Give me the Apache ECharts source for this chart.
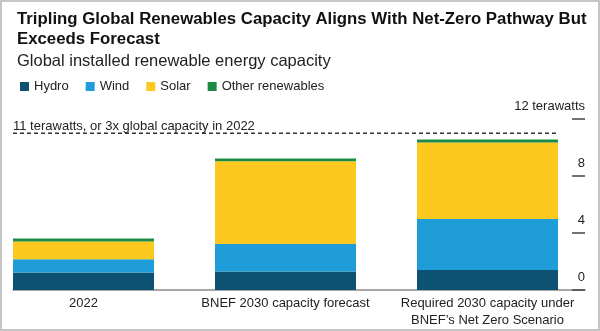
<!DOCTYPE html>
<html>
<head>
<meta charset="utf-8">
<script src="https://cdn.jsdelivr.net/npm/echarts@6/dist/echarts.min.js"></script>
<style>
html,body{margin:0;padding:0;background:#fff;}
#chart{width:600px;height:331px;}
</style>
</head>
<body>
<div id="chart"></div>
<script>
// ---- data ----
const CATEGORIES = ['2022', 'BNEF 2030 capacity forecast', 'Required 2030 capacity under\nBNEF\u2019s Net Zero Scenario'];
const HYDRO = [1.22, 1.29, 1.41];
const WIND = [0.94, 1.93, 3.57];
const SOLAR = [1.24, 5.82, 5.37];
const OTHER = [0.22, 0.19, 0.21];
const TARGET = 11;
const TARGET_LABEL = '11 terawatts, or 3x global capacity in 2022';
const Y_MIN = 0, Y_MAX = 12, Y_INTERVAL = 4;
const Y_UNIT = 'terawatts';

const FONT = '"Liberation Sans", Arial, sans-serif';
const COLORS = { Hydro: '#0d5273', Wind: '#1f9dd9', Solar: '#fdc91f', 'Other renewables': '#1c8b45' };

const chart = echarts.init(document.getElementById('chart'), null, { renderer: 'canvas' });

function barSeries(name, data) {
  return {
    name, type: 'bar', stack: 'total', data,
    xAxisIndex: 0, yAxisIndex: 0,
    barWidth: 141, clip: false,
    itemStyle: { color: COLORS[name] },
    emphasis: { disabled: true },
    z: 3
  };
}

const option = {
  animation: false,
  textStyle: { fontFamily: FONT },
  title: [
    {
      text: 'Tripling Global Renewables Capacity Aligns With Net-Zero Pathway But\nExceeds Forecast',
      left: 12, top: 4,
      textStyle: { fontFamily: FONT, fontSize: 16.8, fontWeight: 'bold', color: '#111', lineHeight: 20 }
    },
    {
      text: 'Global installed renewable energy capacity',
      left: 12, top: 46,
      textStyle: { fontFamily: FONT, fontSize: 16.5, fontWeight: 'normal', color: '#222', lineHeight: 20 }
    }
  ],
  legend: {
    left: 15, top: 75,
    itemWidth: 9, itemHeight: 9, itemGap: 17,
    icon: 'rect',
    textStyle: { fontFamily: FONT, fontSize: 13, color: '#222' },
    data: ['Hydro', 'Wind', 'Solar', 'Other renewables']
  },
  graphic: [{
    type: 'rect', silent: true, z: 100,
    shape: { x: 1, y: 1, width: 598, height: 329 },
    style: { fill: null, stroke: '#c6c6c6', lineWidth: 2 }
  }],
  grid: [
    { left: 83.5, right: 112.5, top: 119, bottom: 41 },  // bar centres
    { left: 13, right: 42, top: 119, bottom: 41 },       // target line
    { left: 13, right: 15, top: 119, bottom: 41 }        // baseline + value axis
  ],
  xAxis: [
    {
      gridIndex: 0, type: 'category', data: CATEGORIES, boundaryGap: false,
      axisLine: { show: false }, axisTick: { show: false },
      axisLabel: { fontFamily: FONT, fontSize: 13, color: '#222', lineHeight: 17, margin: 4.5, interval: 0 }
    },
    {
      gridIndex: 1, type: 'category', data: ['start', 'end'], boundaryGap: false, show: false
    },
    {
      gridIndex: 2, type: 'value', min: 0, max: 1,
      axisLine: { show: true, lineStyle: { color: '#8a8a8a', width: 1.5 } },
      axisTick: { show: false }, axisLabel: { show: false }, splitLine: { show: false }
    }
  ],
  yAxis: [
    { gridIndex: 0, type: 'value', min: Y_MIN, max: Y_MAX, interval: Y_INTERVAL, show: false },
    { gridIndex: 1, type: 'value', min: Y_MIN, max: Y_MAX, interval: Y_INTERVAL, show: false },
    {
      gridIndex: 2, type: 'value', position: 'right', min: Y_MIN, max: Y_MAX, interval: Y_INTERVAL,
      axisLine: { show: false, onZero: false },
      axisTick: { show: true, inside: true, length: 13, lineStyle: { color: '#444', width: 1.5 } },
      splitLine: { show: false },
      axisLabel: {
        inside: true, margin: 0, fontFamily: FONT, fontSize: 13, color: '#222',
        verticalAlign: 'bottom', lineHeight: 16, padding: [0, 0, 5, 0],
        formatter: v => v === Y_MAX ? v + ' ' + Y_UNIT : String(v)
      }
    }
  ],
  series: [
    barSeries('Hydro', HYDRO),
    barSeries('Wind', WIND),
    barSeries('Solar', SOLAR),
    barSeries('Other renewables', OTHER),
    {
      name: 'target', type: 'line', xAxisIndex: 1, yAxisIndex: 1,
      data: [
        { value: TARGET, label: { show: true } },
        TARGET
      ],
      symbol: 'circle', symbolSize: 0, showSymbol: true, silent: true, clip: false,
      lineStyle: { color: '#333', width: 1.5, type: [4, 3] },
      itemStyle: { color: '#333', opacity: 0 },
      label: {
        show: false, position: 'top', align: 'left', distance: 0,
        formatter: TARGET_LABEL, fontFamily: FONT, fontSize: 13, color: '#222', opacity: 1
      },
      labelLayout: { hideOverlap: false },
      z: 4
    }
  ]
};
chart.setOption(option);
</script>
</body>
</html>
